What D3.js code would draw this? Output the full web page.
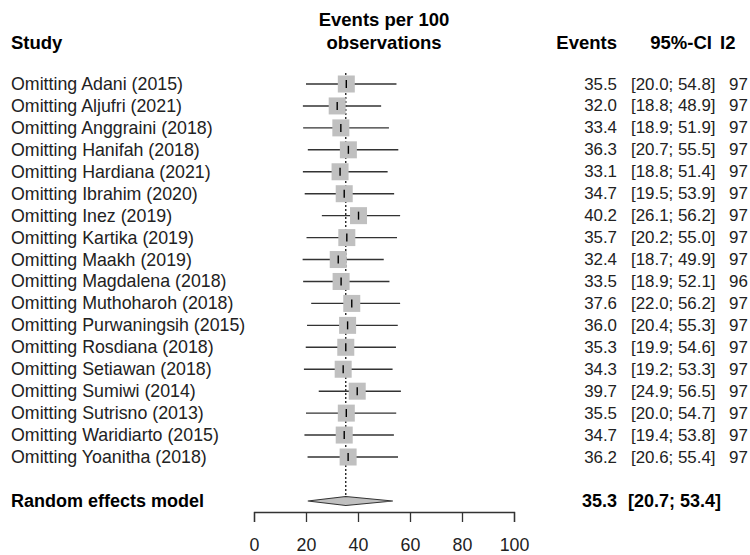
<!DOCTYPE html>
<html><head><meta charset="utf-8">
<script src="https://cdn.jsdelivr.net/npm/d3@7"></script>
<style>body{margin:0;background:#fff}text{font-family:"Liberation Sans",Arial,sans-serif}</style>
</head><body><svg id="c" width="750" height="555"></svg>
<script>
const studies = ["Omitting Adani (2015)","Omitting Aljufri (2021)","Omitting Anggraini (2018)","Omitting Hanifah (2018)","Omitting Hardiana (2021)","Omitting Ibrahim (2020)","Omitting Inez (2019)","Omitting Kartika (2019)","Omitting Maakh (2019)","Omitting Magdalena (2018)","Omitting Muthoharoh (2018)","Omitting Purwaningsih (2015)","Omitting Rosdiana (2018)","Omitting Setiawan (2018)","Omitting Sumiwi (2014)","Omitting Sutrisno (2013)","Omitting Waridiarto (2015)","Omitting Yoanitha (2018)"];
const est = [35.5,32.0,33.4,36.3,33.1,34.7,40.2,35.7,32.4,33.5,37.6,36.0,35.3,34.3,39.7,35.5,34.7,36.2];
const lower = [20.0,18.8,18.9,20.7,18.8,19.5,26.1,20.2,18.7,18.9,22.0,20.4,19.9,19.2,24.9,20.0,19.4,20.6];
const upper = [54.8,48.9,51.9,55.5,51.4,53.9,56.2,55.0,49.9,52.1,56.2,55.3,54.6,53.3,56.5,54.7,53.8,55.4];
const i2 = [97,97,97,97,97,97,97,97,97,96,97,97,97,97,97,97,97,97];
const pooled = {label:"Random effects model", est:35.3, lower:20.7, upper:53.4};
const ticks = [0,20,40,60,80,100];

const svg = d3.select("#c");
const x = d3.scaleLinear().domain([0,100]).range([254,514]);
const y = d3.scaleLinear().domain([0,17]).range([84,457]);
const fmt = d3.format(".1f");
const fsLab = 17.8, fsNum = 16.9, fsHdr = 18.5, fsPool = 18;

// headers
const hdr = svg.append("g").attr("font-weight","bold").attr("font-size",fsHdr).attr("fill","#000");
hdr.append("text").attr("x",11).attr("y",42).attr("dominant-baseline","central").text("Study");
hdr.append("text").attr("x",384).attr("y",19).attr("text-anchor","middle").attr("dominant-baseline","central").text("Events per 100");
hdr.append("text").attr("x",384).attr("y",42).attr("text-anchor","middle").attr("dominant-baseline","central").text("observations");
hdr.append("text").attr("x",617).attr("y",42).attr("text-anchor","end").attr("dominant-baseline","central").text("Events");
hdr.append("text").attr("x",712).attr("y",42).attr("text-anchor","end").attr("dominant-baseline","central").text("95%-CI");
hdr.append("text").attr("x",720).attr("y",42).attr("dominant-baseline","central").text("I2");

// dotted reference line
svg.append("line").attr("x1",x(pooled.est)).attr("x2",x(pooled.est)).attr("y1",73).attr("y2",496)
  .attr("stroke","#000").attr("stroke-width",1.2).attr("stroke-dasharray","2,2");

const rows = svg.append("g").selectAll("g").data(studies).join("g");
rows.append("line").attr("x1",(d,i)=>x(lower[i])).attr("x2",(d,i)=>x(upper[i]))
  .attr("y1",(d,i)=>y(i)).attr("y2",(d,i)=>y(i)).attr("stroke","#333").attr("stroke-width",1.4);
const sq = 17;
rows.append("rect").attr("x",(d,i)=>x(est[i])-sq/2).attr("y",(d,i)=>y(i)-sq/2)
  .attr("width",sq).attr("height",sq).attr("fill","#c0c0c0");
rows.append("line").attr("x1",(d,i)=>x(est[i])).attr("x2",(d,i)=>x(est[i]))
  .attr("y1",(d,i)=>y(i)-4).attr("y2",(d,i)=>y(i)+4).attr("stroke","#000").attr("stroke-width",1.4);
rows.append("text").attr("x",11).attr("y",(d,i)=>y(i)).attr("dominant-baseline","central")
  .attr("font-size",fsLab).attr("fill","#222").text(d=>d);
rows.append("text").attr("x",617).attr("y",(d,i)=>y(i)).attr("text-anchor","end").attr("dominant-baseline","central")
  .attr("font-size",fsNum).attr("fill","#222").text((d,i)=>fmt(est[i]));
rows.append("text").attr("x",631).attr("y",(d,i)=>y(i)).attr("dominant-baseline","central")
  .attr("font-size",fsNum).attr("fill","#222").text((d,i)=>"["+fmt(lower[i])+"; "+fmt(upper[i])+"]");
rows.append("text").attr("x",729).attr("y",(d,i)=>y(i)).attr("dominant-baseline","central")
  .attr("font-size",fsNum).attr("fill","#222").text((d,i)=>i2[i]);

// pooled
const py = 501;
svg.append("polygon").attr("points",[[x(pooled.lower),py],[x(pooled.est),py-4.5],[x(pooled.upper),py],[x(pooled.est),py+4.5]].map(p=>p.join(",")).join(" "))
  .attr("fill","#c0c0c0").attr("stroke","#333").attr("stroke-width",1.2);
const pg = svg.append("g").attr("font-weight","bold").attr("font-size",fsPool).attr("fill","#000");
pg.append("text").attr("x",11).attr("y",py).attr("dominant-baseline","central").text(pooled.label);
pg.append("text").attr("x",617).attr("y",py).attr("text-anchor","end").attr("dominant-baseline","central").text(fmt(pooled.est));
pg.append("text").attr("x",628).attr("y",py).attr("dominant-baseline","central").text("["+fmt(pooled.lower)+"; "+fmt(pooled.upper)+"]");

// axis
const ax = svg.append("g").attr("transform","translate(0,512)")
  .call(d3.axisBottom(x).tickValues(ticks).tickSize(10).tickPadding(16).tickFormat(d3.format("d")));
ax.select(".domain").attr("stroke","#333").attr("stroke-width",1.3);
ax.selectAll(".tick line").attr("stroke","#333").attr("stroke-width",1.3);
ax.selectAll(".tick text").attr("font-size",17.8).attr("fill","#222").attr("font-family","Liberation Sans, Arial, sans-serif");
</script></body></html>
